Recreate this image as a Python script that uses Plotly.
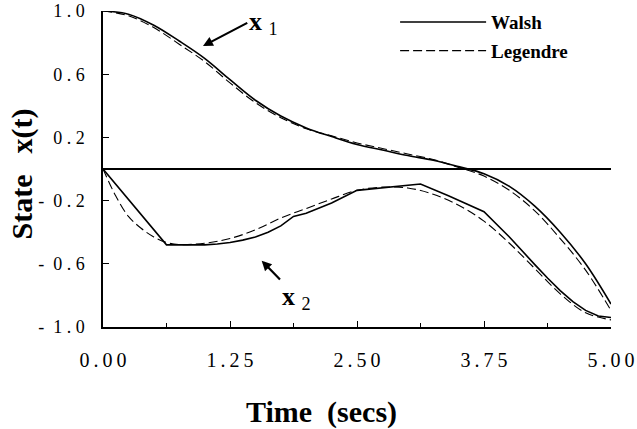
import plotly.graph_objects as go

# ---- data ----
t_grid = [0, 0.25, 0.5, 0.75, 1.0, 1.25, 1.5, 1.75, 2.0, 2.25, 2.5,
          2.75, 3.0, 3.25, 3.5, 3.75, 4.0, 4.25, 4.5, 4.75, 5.0]
x1_walsh = [1.0, 0.98, 0.91, 0.81, 0.70, 0.565, 0.435, 0.335, 0.26, 0.205, 0.155,
            0.12, 0.085, 0.055, 0.015, -0.03, -0.11, -0.235, -0.40, -0.60, -0.855]
x1_legendre = [1.0, 0.97, 0.895, 0.79, 0.68, 0.545, 0.42, 0.325, 0.255, 0.21, 0.165,
               0.13, 0.095, 0.06, 0.01, -0.045, -0.135, -0.265, -0.44, -0.64, -0.895]

t_walsh2 = [0, 0.625, 1.0, 1.125, 1.25, 1.375, 1.5, 1.625, 1.75, 1.875, 2.0, 2.25, 2.5,
            2.8, 3.125, 3.4, 3.75, 4.0, 4.125, 4.25, 4.375, 4.5, 4.625, 4.75, 4.875, 5.0]
x2_walsh = [0, -0.48, -0.48, -0.475, -0.465, -0.45, -0.43, -0.40, -0.36, -0.30, -0.28,
            -0.215, -0.135, -0.115, -0.095, -0.17, -0.27, -0.43, -0.52, -0.605, -0.69,
            -0.77, -0.84, -0.895, -0.93, -0.94]

t_leg2 = [0, 0.125, 0.25, 0.375, 0.5, 0.625, 0.75, 1.0, 1.25, 1.5, 1.75, 2.0, 2.25,
          2.5, 2.75, 3.0, 3.25, 3.5, 3.75, 4.0, 4.25, 4.5, 4.75, 5.0]
x2_legendre = [0, -0.17, -0.30, -0.375, -0.43, -0.465, -0.478, -0.47, -0.44, -0.385,
               -0.31, -0.25, -0.19, -0.135, -0.115, -0.12, -0.16, -0.23, -0.33, -0.47,
               -0.63, -0.79, -0.91, -0.955]

x_tick_vals = [0, 1.25, 2.5, 3.75, 5.0]
x_tick_text = ["0.00", "1.25", "2.50", "3.75", "5.00"]
y_tick_vals = [-1.0, -0.6, -0.2, 0.2, 0.6, 1.0]
y_tick_text = ["-1.0", "-0.6", "-0.2", "0.2", "0.6", "1.0"]

SERIF = "Liberation Serif, Times New Roman, serif"


def spaced_x(s):
    return "\u2009".join(s)


def spaced_y(s):
    if s.startswith("-"):
        return "-\u2002" + " ".join(s[1:])
    return " ".join(s)


fig = go.Figure()
fig.add_trace(go.Scatter(x=t_grid, y=x1_walsh, mode="lines", name="<b>Walsh</b>",
                         legendgroup="w", line=dict(color="black", width=1.6, shape="spline")))
fig.add_trace(go.Scatter(x=t_walsh2, y=x2_walsh, mode="lines", name="<b>Walsh</b>",
                         legendgroup="w", showlegend=False,
                         line=dict(color="black", width=1.6)))
fig.add_trace(go.Scatter(x=t_grid, y=x1_legendre, mode="lines", name="<b>Legendre</b>",
                         legendgroup="l", line=dict(color="black", width=1.1, dash="9px,4px",
                                                    shape="spline")))
fig.add_trace(go.Scatter(x=t_leg2, y=x2_legendre, mode="lines", name="<b>Legendre</b>",
                         legendgroup="l", showlegend=False,
                         line=dict(color="black", width=1.1, dash="9px,4px", shape="spline")))

fig.update_layout(
    width=637, height=429,
    margin=dict(l=103, r=26, t=11, b=102, autoexpand=False),
    paper_bgcolor="white", plot_bgcolor="white",
    font=dict(family=SERIF, color="black"),
    showlegend=True,
    legend=dict(x=0.575, y=1.025, xanchor="left", yanchor="top",
                bgcolor="rgba(0,0,0,0)", itemwidth=86,
                font=dict(family=SERIF, size=19, color="black"),
                tracegroupgap=1),
)

fig.update_xaxes(
    range=[0, 5], showgrid=False, zeroline=False, automargin=False,
    showline=True, linecolor="black", linewidth=1.5,
    ticks="inside", ticklen=6, tickwidth=1, tickcolor="black",
    tickvals=x_tick_vals, ticktext=[spaced_x(s) for s in x_tick_text],
    tickfont=dict(family=SERIF, size=20, color="black"),
    ticklabelstandoff=14,
    minor=dict(tickvals=[0.625, 1.875, 3.125, 4.375], ticks="inside", ticklen=4,
               tickcolor="black", tickwidth=1),
)
fig.update_yaxes(
    range=[-1, 1], showgrid=False, automargin=False,
    zeroline=True, zerolinecolor="black", zerolinewidth=1.5,
    showline=True, linecolor="black", linewidth=1.5,
    ticks="inside", ticklen=6, tickwidth=1, tickcolor="black",
    tickvals=y_tick_vals,
    ticktext=[spaced_y(s) for s in y_tick_text],
    tickfont=dict(family=SERIF, size=18, color="black"),
    ticklabelstandoff=13,
)

# axis titles
fig.add_annotation(xref="paper", yref="paper", x=0.431, y=-0.27, yanchor="middle",
                   text="<b>Time\u00a0\u00a0(secs)</b>", showarrow=False,
                   font=dict(family=SERIF, size=30, color="black"))
fig.add_annotation(xref="paper", yref="paper", x=-0.16, y=0.485, xanchor="center",
                   text="<b>State\u2002\u2009x(t)</b>", textangle=-90, showarrow=False,
                   font=dict(family=SERIF, size=30, color="black"))

# curve labels with arrows (text sits at the arrow tail)
fig.add_annotation(x=0.984, y=0.778, ax=1.42, ay=0.925, xref="x", yref="y",
                   axref="x", ayref="y", xanchor="left", yanchor="middle",
                   text="<b>x</b> <sub>1</sub>", showarrow=True,
                   arrowhead=2, arrowsize=0.9, arrowwidth=2.2, arrowcolor="black",
                   font=dict(family=SERIF, size=26, color="black"))
fig.add_annotation(x=1.562, y=-0.58, ax=1.742, ay=-0.70, xref="x", yref="y",
                   axref="x", ayref="y", xanchor="left", yanchor="top",
                   text="<b>x</b> <sub>2</sub>", showarrow=True,
                   arrowhead=2, arrowsize=0.9, arrowwidth=2.2, arrowcolor="black",
                   font=dict(family=SERIF, size=26, color="black"))

fig.write_html("out.html")
